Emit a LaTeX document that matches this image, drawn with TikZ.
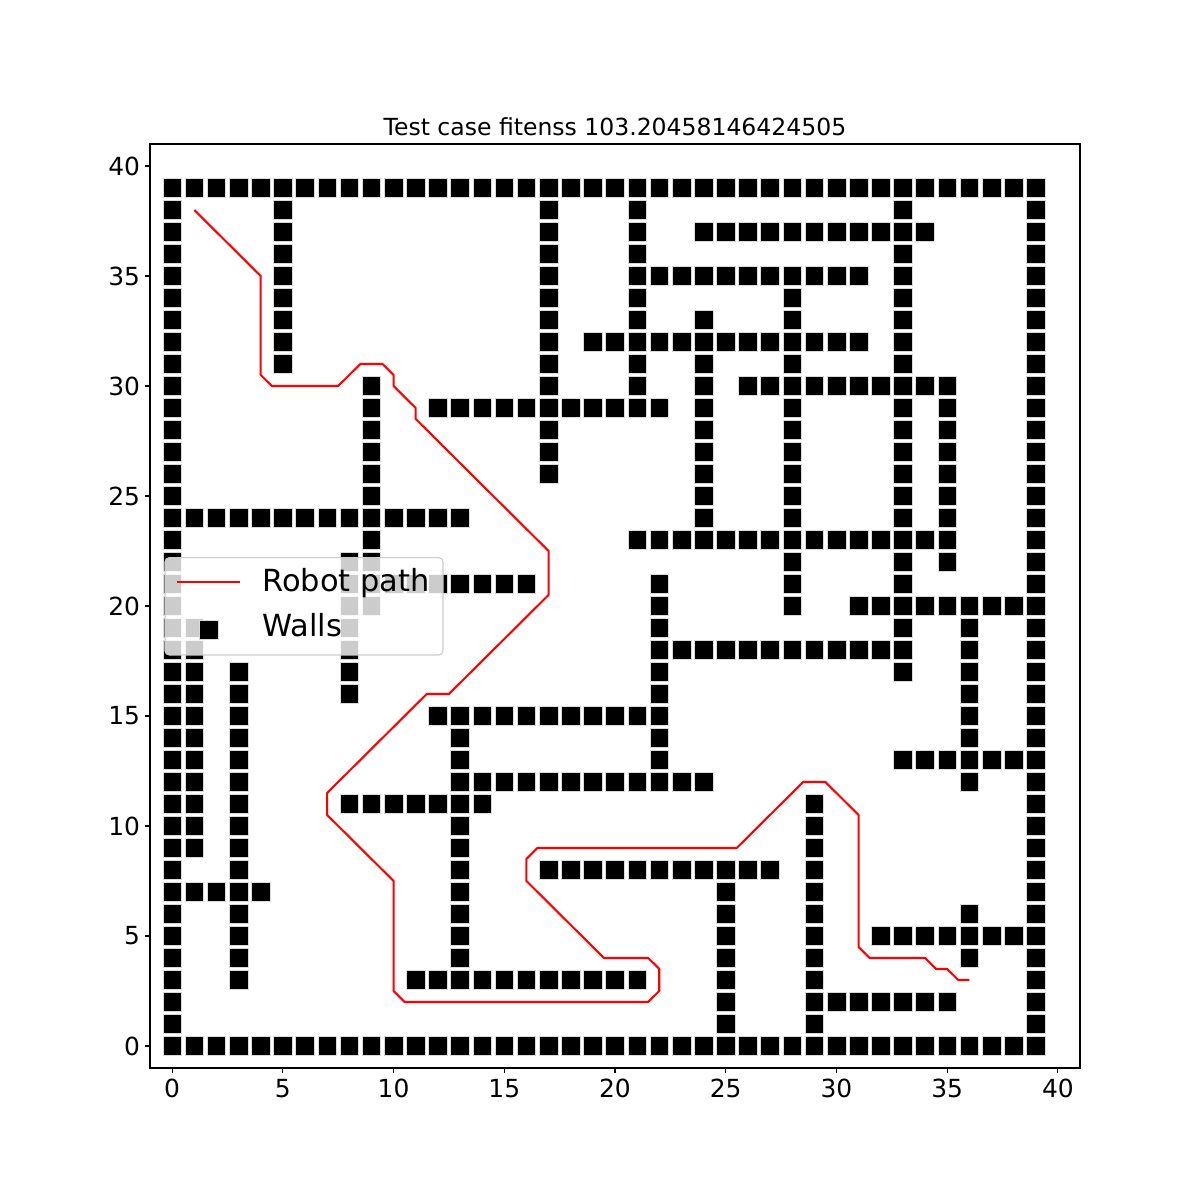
\documentclass[tikz,border=0pt]{standalone}
\usepackage{fontspec}
\setmainfont{DejaVu Sans}
\begin{document}
\begin{tikzpicture}[x=0.22143in,y=0.22in]
\tikzstyle{wall} = [fill=black,draw=black!15,line width=0.4pt]
\tikzstyle{ticklab} = [font=\fontsize{18}{21}\selectfont,inner sep=0pt]
\tikzstyle{leglab} = [font=\fontsize{22}{26}\selectfont,inner sep=0pt,anchor=base west]
\tikzstyle{robot} = [red,line width=1.5pt,line join=round]
\newcommand{\wallsq}[2]{\draw[wall] (#1,#2) ++(-0.0935in,-0.0935in) rectangle ++(0.187in,0.187in);}
\useasboundingbox (-7.774,-7) rectangle (46.42,47.545);
% walls, rows first (y/from/to)
\foreach \y/\a/\b in {0/0/39,39/0/39,37/24/34,35/21/31,32/19/31,30/26/35,29/12/22,24/0/13,23/21/35,21/8/16,20/31/39,18/22/33,15/12/22,13/33/39,12/13/24,11/8/14,8/17/27,7/0/4,5/32/39,3/11/21,2/29/35}
  \foreach \x in {\a,...,\b} {\wallsq{\x}{\y}}
% then columns (x/from/to)
\foreach \x/\a/\b in {0/0/39,39/0/39,1/9/19,3/3/17,5/31/38,8/16/22,9/20/30,13/3/15,17/26/38,21/29/38,22/12/21,24/24/33,25/1/8,28/20/34,29/1/11,33/17/38,35/22/30,36/12/19,36/4/6}
  \foreach \y in {\a,...,\b} {\wallsq{\x}{\y}}
% robot path
\draw[robot] (1,38) -- (4,35) -- (4,30.5) -- (4.5,30) -- (7.5,30) -- (8.5,31) -- (9.5,31) -- (10,30.5) -- (10,30) -- (11,29) -- (11,28.5) -- (17,22.5) -- (17,20.5) -- (12.5,16) -- (11.5,16) -- (7,11.5) -- (7,10.5) -- (10,7.5) -- (10,2.5) -- (10.5,2) -- (21.5,2) -- (22,2.5) -- (22,3.5) -- (21.5,4) -- (19.5,4) -- (16,7.5) -- (16,8.5) -- (16.5,9) -- (25.5,9) -- (28.5,12) -- (29.5,12) -- (31,10.5) -- (31,4.5) -- (31.5,4) -- (34,4) -- (34.5,3.5) -- (35,3.5) -- (35.5,3) -- (36,3);
% axes and ticks
\draw[line width=0.8pt] (-1,-1) rectangle (41,41);
\foreach \t in {0,5,...,40} {
  \draw[line width=0.8pt] (\t,-1) -- ++(0,-3.5pt) coordinate (xt\t);
  \node[ticklab,anchor=north] (xl\t) at ([yshift=-4.2pt]xt\t) {\t};
  \draw[line width=0.8pt] (-1,\t) -- ++(-3.5pt,0) coordinate (yt\t);
  \node[ticklab,anchor=east] (yl\t) at ([xshift=-3.5pt]yt\t) {\t};
}
\node[font=\fontsize{17}{20}\selectfont,inner sep=0pt,anchor=base] (title) at (20,41.364) {Test case fitenss 103.20458146424505};
% legend
\draw[draw=black!20,fill=white,fill opacity=0.8,rounded corners=3pt,line width=0.8pt] (-0.322,17.773) rectangle (12.232,22.195);
\draw[robot] (0.219,21.105) coordinate (lga) -- (3.065,21.105) coordinate (lgb);
\wallsq{1.642}{18.93}
\node[leglab] (lgpath) at (4.058,20.65) {Robot path};
\node[leglab] (lgwalls) at (4.058,18.6) {Walls};
\end{tikzpicture}
\end{document}
